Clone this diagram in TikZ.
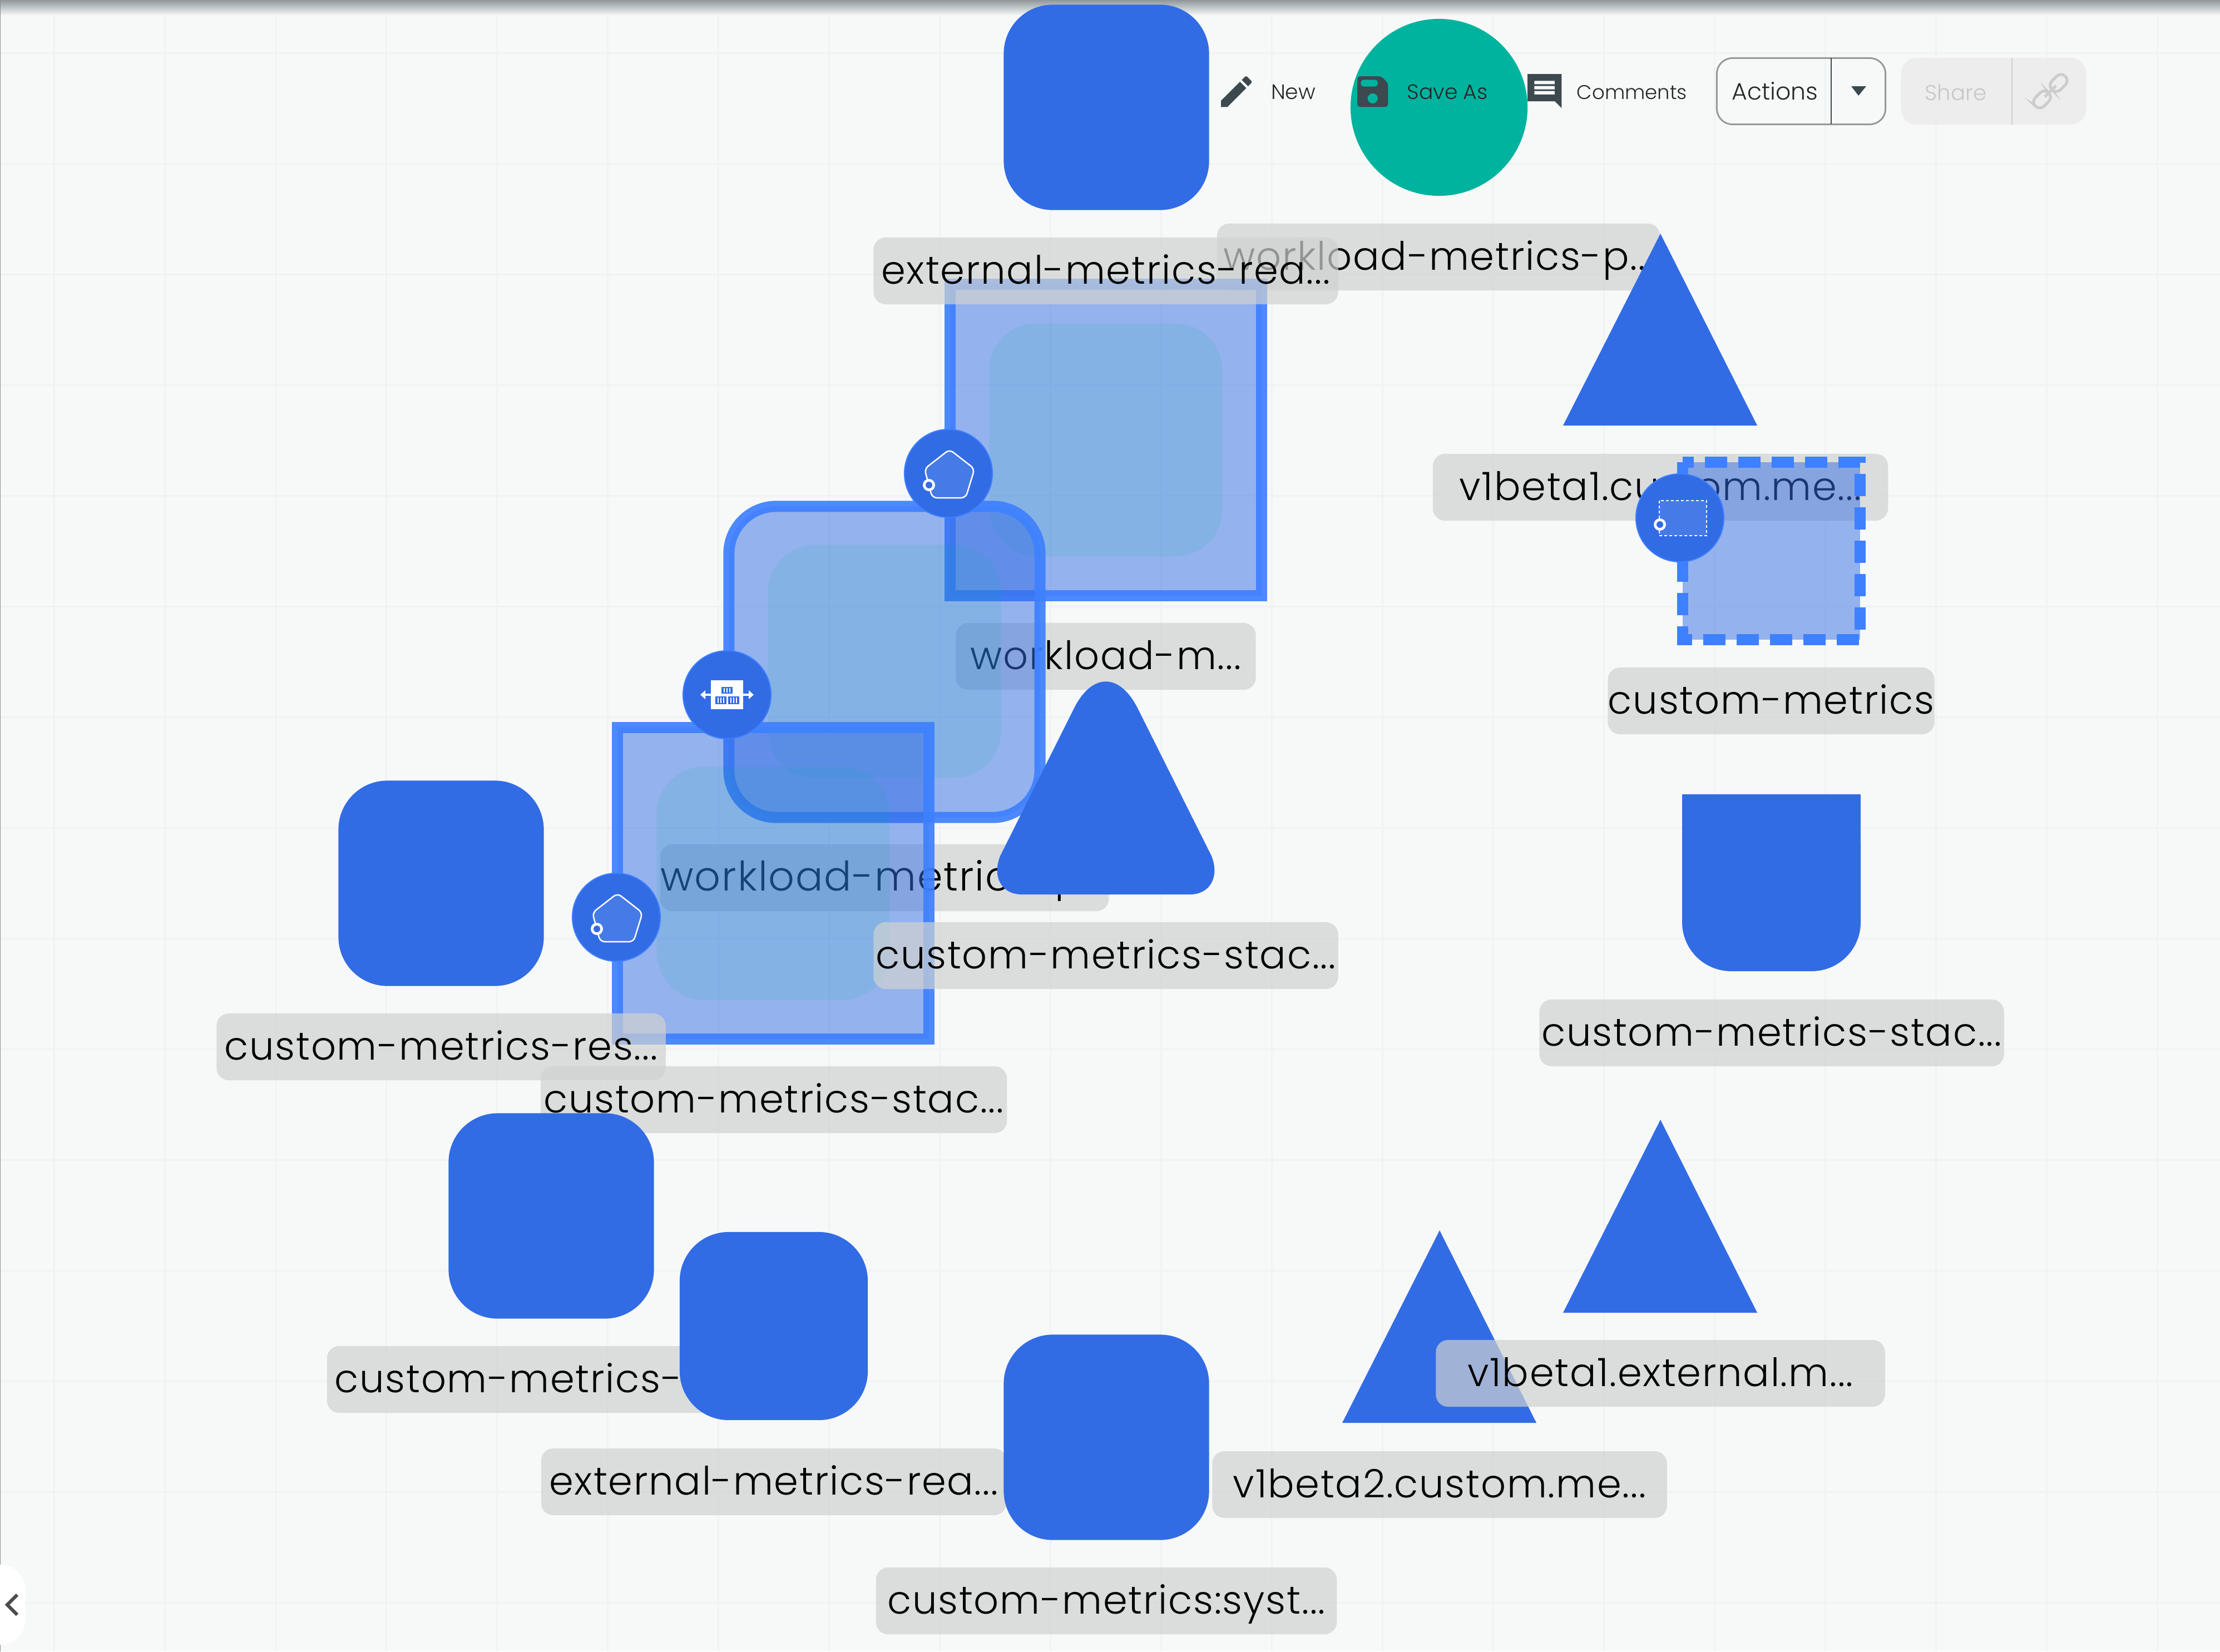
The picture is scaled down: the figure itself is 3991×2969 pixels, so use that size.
\documentclass[tikz,border=0pt]{standalone}
\usepackage{fontspec}
\setmainfont{Poppins Light}
\newfontfamily\labfont[LetterSpace=2.5]{Poppins Light}
\newcommand{\ddd}{.\kern.03em.\kern.03em.}
\usetikzlibrary{shapes.geometric,shadings}
\definecolor{bgc}{HTML}{F7F9F8}
\definecolor{gridc}{HTML}{F1F3F2}
\definecolor{kube}{HTML}{326CE5}
\definecolor{selb}{HTML}{3E80FF}
\definecolor{teal}{HTML}{00B39F}
\definecolor{labc}{HTML}{D0D2D1}
\definecolor{icon}{HTML}{3C494F}
\definecolor{topsh}{HTML}{8F989C}
\tikzset{
  lab/.style={fill=labc,fill opacity=.7,text opacity=1,rounded corners=.22cm,inner sep=0pt,minimum height=1.2cm,
    text height=.6cm,text depth=.14cm,font=\labfont\fontsize{20}{24}\selectfont,text=black},
  block/.style={fill=kube,rounded corners=.88cm,minimum size=3.69cm,inner sep=0pt},
  selsq/.style={draw=selb,line width=.2cm,fill=kube,fill opacity=.5,draw opacity=.92,minimum size=5.59cm,inner sep=0pt},
  inner/.style={fill=teal,fill opacity=.1,rounded corners=.85cm,minimum size=4.19cm,inner sep=0pt},
  badge/.style={circle,fill=kube,draw=selb,line width=.02cm,minimum size=1.58cm,inner sep=0pt},
  tool/.style={inner sep=0pt,font=\fontsize{10.7}{13}\selectfont,text=black!85,text height=.3cm,text depth=0cm},
  penticon/.pic={
    \fill[white,fill opacity=.1,rounded corners=.08cm] (2,-43)--(47,-8)--(31,44)--(-29,44)--(-43,-8)--cycle;
    \draw[white,line width=.025cm,rounded corners=.08cm] (2,-43)--(47,-8)--(31,44)--(-29,44)--(-43,-8)--cycle;
    \fill[white] (-35,21) circle (11);
    \fill[kube] (-35,21) circle (6);
  },
  ksicon/.pic={
    \fill[white] (-29,-26) rectangle (29,26);
    \fill[kube] (-10,-14) rectangle (10,-2);
    \fill[kube] (-21,3) rectangle (-1,17);
    \fill[kube] (2,3) rectangle (22,17);
    \foreach \sx in {-5,0,5} {\draw[white,line width=.012cm] (\sx,-12)--(\sx,-4);}
    \foreach \sx in {-16,-11,-6,7,12,17} {\draw[white,line width=.012cm] (\sx,5)--(\sx,15);}
    \draw[white,line width=.04cm] (-45,0)--(45,0);
    \fill[white] (-48,0)--(-39,-8)--(-39,8)--cycle;
    \fill[white] (48,0)--(39,-8)--(39,8)--cycle;
  }
}
\begin{document}
\begin{tikzpicture}[x=.01cm,y=-.01cm]
\useasboundingbox (0,0) rectangle (3991,2969);
\fill[bgc] (0,0) rectangle (3991,2969);
\foreach \g in {0,...,19} {\draw[gridc,line width=.03cm] ({97+199*\g},0)--({97+199*\g},2969);}
\foreach \g in {0,...,14} {\draw[gridc,line width=.03cm] (0,{95+199*\g})--(3991,{95+199*\g});}
\shade[top color=topsh,bottom color=bgc] (0,0) rectangle (3991,28);
\draw[black!45,line width=.02cm] (0,0)--(0,2969);

% labels below the selected shapes
\node[lab,minimum width=7.96cm] (ltopw) at (2586,462) {workload-metrics-p\ddd};
\node[lab,minimum width=8.18cm] (lv1c) at (2985,876) {v1beta1.custom.me\ddd};
\node[lab,minimum width=5.39cm] (lwm) at (1988,1180) {workload-m\ddd};
\node[lab,minimum width=8.06cm,font=\labfont\fontsize{20.8}{24}\selectfont] (lwmp) at (1590,1578) {workload-metrics-p\ddd};

% selected shapes
\node[selsq] (s1) at (1988,791) {};
\node[inner] (i1) at (1988,791) {};
\node[selsq,rounded corners=.85cm] (s2) at (1590,1190) {};
\node[inner] (i2) at (1590,1189) {};
\node[selsq] (s3) at (1390,1588) {};
\node[inner] (i3) at (1390,1588) {};

% rounded triangle
\fill[kube] (1929,1277) .. controls (1962,1208) and (2014,1208) .. (2047,1277)
  -- (2178,1539) .. controls (2193,1577) and (2175,1608) .. (2139,1608)
  -- (1837,1608) .. controls (1801,1608) and (1783,1577) .. (1798,1539) -- cycle;
\fill[kube,fill opacity=.5] (3025,831) rectangle (3344,1150);
\draw[selb,line width=.2cm,dash pattern=on .4cm off .2cm,dash phase=.2cm] (3025,831)--(3344,831)--(3344,1150)--(3025,1150)--cycle;

% labels above
\node[lab,minimum width=8.35cm] (ltope) at (1988,487) {external-metrics-rea\ddd};
\node[lab,minimum width=8.35cm] (lcms1) at (1988,1718) {custom-metrics-stac\ddd};
\node[lab,minimum width=5.87cm] (lcm) at (3184,1260) {custom-metrics};
\node[lab,minimum width=8.35cm] (lcms2) at (3185,1857) {custom-metrics-stac\ddd};
\node[lab,minimum width=8.38cm] (lcms3) at (1391,1977) {custom-metrics-stac\ddd};
\node[lab,minimum width=8.07cm] (lres) at (793,1882) {custom-metrics-res\ddd};
\node[lab,minimum width=8.06cm] (lres2) at (991,2480) {custom-metrics-res\ddd};
\node[lab,minimum width=8.36cm] (lext2) at (1391,2664) {external-metrics-rea\ddd};
\node[lab,minimum width=8.28cm] (lsys) at (1989,2878) {custom-metrics:syst\ddd};
\node[lab,minimum width=8.17cm] (lv2) at (2588,2669) {v1beta2.custom.me\ddd};

% blocks
\node[block] (btop) at (1989,193) {};
\fill[kube] (2985,420)--(3159,765)--(2810,765)--cycle;
\node[block] (bres) at (793,1588) {};
\node[block] (bres2) at (991,2186) {};
\node[block,minimum size=3.38cm] (bext) at (1391,2384) {};
\node[block] (bsys) at (1989,2584) {};
\fill[kube,rounded corners=0.88cm] (3024,1428)--(3345,1428)--(3345,1746)--(3024,1746)--cycle;
\fill[kube] (3024,1428) rectangle (3345,1600);
\fill[kube] (2588,2212)--(2762,2558)--(2413,2558)--cycle;
\fill[kube] (2985,2013)--(3159,2360)--(2810,2360)--cycle;
\node[lab,minimum width=8.07cm] (lv1e) at (2985,2469) {v1beta1.external.m\ddd};

% badges
\node[badge] (c1) at (1705,851) {};
\pic at (1705,851) {penticon};
\node[badge] (c2) at (1307,1249) {};
\pic at (1307,1249) {ksicon};
\node[badge] (c3) at (1108,1649) {};
\pic at (1108,1649) {penticon};
\node[badge] (c4) at (3020,931) {};
\fill[white,fill opacity=.1] (2983,900) rectangle (3068,963);
\draw[white,line width=.025cm,dash pattern=on .05cm off .04cm] (2983,900) rectangle (3068,963);
\fill[white] (2984,943) circle (11);
\fill[kube] (2984,943) circle (6);

% toolbar
\node[circle,fill=teal,minimum size=3.18cm,inner sep=0pt] (green) at (2587,193) {};
\begin{scope}[shift={(2186,128)},x=.0306cm,y=-.0306cm]
\fill[icon] (3,17.25)--(3,21)--(6.75,21)--(17.81,9.94)--(14.06,6.19)--cycle;
\fill[icon] (20.71,7.04)--(18.88,8.87)--(15.13,5.12)--(16.96,3.29)..controls (17.35,2.9) and (17.98,2.9)..(18.37,3.29)--(20.71,5.63)..controls (21.1,6.02) and (21.1,6.65)..(20.71,7.04)--cycle;
\end{scope}
\begin{scope}[shift={(2431,128)},x=.0306cm,y=-.0306cm]
\fill[icon,even odd rule,rounded corners=.05cm] (3,3)--(17,3)--(21,7)--(21,21)--(3,21)--cycle
  (5,5) rectangle (15,9) (12,16) circle (3);
\end{scope}
\begin{scope}[shift={(2740,127)},x=.0306cm,y=-.0306cm]
\fill[icon,even odd rule] (2,2)--(22,2)--(22,22)--(18,18)--(2,18)--cycle
  (6,6) rectangle (18,8) (6,9) rectangle (18,11) (6,12) rectangle (18,14);
\end{scope}
\node[tool] (tnew) at (2325,163) {New};
\node[tool] (tsave) at (2602,163) {Save As};
\node[tool,font=\fontsize{10.1}{13}\selectfont] (tcom) at (2934,163) {Comments};
\node[draw=black!40,line width=.03cm,rounded corners=.28cm,minimum width=3.03cm,minimum height=1.19cm,inner sep=0pt] (act) at (3238,164) {};
\coordinate (acttop) at (3292,104);
\coordinate (actbot) at (3292,223);
\draw[icon,line width=.025cm] (acttop)--(actbot);
\node[tool,font=\fontsize{12.1}{15}\selectfont] (tact) at (3191,164) {Actions};
\fill[icon] (3328,155)--(3355,155)--(3341,172)--cycle;
\node[fill=black!8,fill opacity=.8,rounded corners=.28cm,minimum width=3.33cm,minimum height=1.2cm,inner sep=0pt] (shr) at (3584,164) {};
\coordinate (shrtop) at (3617,104);
\coordinate (shrbot) at (3617,224);
\draw[black!18,line width=.02cm] (shrtop)--(shrbot);
\node[tool,text=black!22,font=\fontsize{11}{14}\selectfont] (tshr) at (3516,165) {Share};
\begin{scope}[shift={(3686,164)},rotate=45]
\draw[black!20,line width=.05cm,rounded corners=.11cm] (-4,-11) rectangle (-38,11);
\draw[black!20,line width=.05cm,rounded corners=.11cm] (4,-11) rectangle (38,11);
\draw[black!20,line width=.05cm] (-14,0)--(14,0);
\end{scope}

% side tab
\fill[white,rounded corners=.44cm] (-60,2813) rectangle (45,2957);
\draw[black!70!white,line width=.06cm] (31,2867)--(13,2885)--(31,2903);
\end{tikzpicture}
\end{document}
